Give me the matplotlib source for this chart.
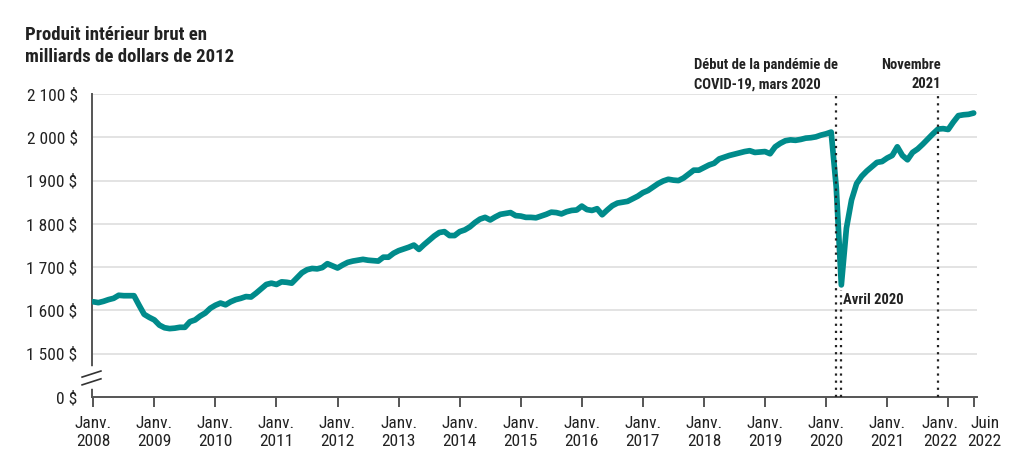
import numpy as np
import matplotlib
matplotlib.use("Agg")
import matplotlib.pyplot as plt
import matplotlib.transforms as mtransforms
from matplotlib import font_manager

# Font: condensed Roboto if available, else plain Roboto
names = set(f.name for f in font_manager.fontManager.ttflist)
fam = 'Roboto Condensed' if 'Roboto Condensed' in names else 'Roboto'
plt.rcParams['font.family'] = [fam, 'DejaVu Sans']

# Monthly real GDP (billions of 2012 dollars), Jan 2008 .. June 2022
gdp_2008 = [1620, 1618, 1621, 1625, 1628, 1635, 1634, 1634, 1634, 1612, 1591, 1584]
gdp_2009 = [1578, 1566, 1560, 1558, 1559, 1561, 1561, 1574, 1578, 1587, 1594, 1605]
gdp_2010 = [1612, 1617, 1613, 1620, 1625, 1628, 1632, 1631, 1640, 1650, 1660, 1663]
gdp_2011 = [1660, 1666, 1665, 1663, 1675, 1687, 1694, 1697, 1696, 1699, 1708, 1703]
gdp_2012 = [1698, 1705, 1711, 1714, 1716, 1718, 1716, 1715, 1714, 1723, 1723, 1732]
gdp_2013 = [1738, 1742, 1746, 1751, 1741, 1752, 1762, 1772, 1780, 1782, 1773, 1773]
gdp_2014 = [1782, 1786, 1793, 1803, 1811, 1815, 1809, 1816, 1822, 1824, 1826, 1819]
gdp_2015 = [1818, 1815, 1815, 1814, 1818, 1822, 1827, 1826, 1823, 1828, 1831, 1832]
gdp_2016 = [1841, 1833, 1831, 1835, 1821, 1832, 1842, 1848, 1850, 1852, 1858, 1864]
gdp_2017 = [1872, 1877, 1885, 1893, 1899, 1903, 1901, 1900, 1906, 1915, 1924, 1924]
gdp_2018 = [1930, 1936, 1940, 1950, 1954, 1958, 1961, 1964, 1967, 1969, 1965, 1966]
gdp_2019 = [1967, 1962, 1978, 1986, 1992, 1994, 1993, 1995, 1998, 1999, 2001, 2005]
gdp_2020 = [2008, 2012, 1885, 1659, 1790, 1855, 1893, 1910, 1922, 1932, 1942, 1944]
gdp_2021 = [1952, 1958, 1978, 1958, 1948, 1965, 1973, 1984, 1996, 2008, 2019, 2020]
gdp_2022 = [2018, 2035, 2050, 2052, 2053, 2056]

gdp = (gdp_2008 + gdp_2009 + gdp_2010 + gdp_2011 + gdp_2012 + gdp_2013 + gdp_2014
       + gdp_2015 + gdp_2016 + gdp_2017 + gdp_2018 + gdp_2019 + gdp_2020 + gdp_2021 + gdp_2022)
months = np.arange(len(gdp))

# x tick positions / labels
xtick_pos = [0, 12, 24, 36, 48, 60, 72, 84, 96, 108, 120, 132, 144, 156, 168, 173]
xtick_lab = ["Janv.\n%d" % y for y in range(2008, 2023)] + ["Juin\n2022"]

# y axis (broken: bottom tick stands for 0 $)
ytick_pos = [1400, 1500, 1600, 1700, 1800, 1900, 2000, 2100]
ytick_lab = ["0 $", "1 500 $", "1 600 $", "1 700 $", "1 800 $", "1 900 $", "2 000 $", "2 100 $"]

# annotated months
mars_2020 = 146
avril_2020 = 147
nov_2021 = 166

fig = plt.figure(figsize=(10.24, 4.73), dpi=100)
ax = fig.add_axes([91.5/1024, 76/473, (976.7-91.5)/1024, 303/473])

ax.plot(months, gdp, color='#008b8b', lw=4.1, solid_capstyle='round', solid_joinstyle='round', zorder=3)

ax.set_xlim(-0.35, 173.6)
ax.set_ylim(1400, 2100)

# gridlines
for v in ytick_pos[1:]:
    ax.axhline(v, color='#dedede', lw=1.2, zorder=1)

# dotted event lines
dot = (0, (1, 2.2))
ax.plot([mars_2020, mars_2020], [1400, 2100], color='#222222', lw=1.6, ls=dot, zorder=4, clip_on=False)
ax.plot([avril_2020, avril_2020], [1400, 1648], color='#222222', lw=1.6, ls=dot, zorder=4)
ax.plot([nov_2021, nov_2021], [1400, 2100], color='#222222', lw=1.6, ls=dot, zorder=4, clip_on=False)

ax.text(mars_2020 + 0.4, 2106, "Début de la pandémie de\nCOVID-19, mars 2020", ha='right', va='bottom',
        multialignment='left', fontsize=10.5, fontweight='bold', color='#222222', linespacing=1.45)
ax.text(nov_2021 + 0.5, 2106, "Novembre\n2021", ha='right', va='bottom',
        multialignment='right', fontsize=10.5, fontweight='bold', color='#222222', linespacing=1.45)
ax.text(avril_2020 + 0.4, 1624, "Avril 2020", ha='left', va='center',
        fontsize=10.5, fontweight='bold', color='#222222')

# spines and ticks
for s in ['top', 'right']:
    ax.spines[s].set_visible(False)
ax.spines['left'].set_color('#555555')
ax.spines['bottom'].set_color('#555555')
ax.spines['left'].set_linewidth(1.4)
ax.spines['bottom'].set_linewidth(1.4)

ax.set_yticks(ytick_pos)
ax.set_yticklabels(ytick_lab)
ax.set_xticks(xtick_pos)
ax.set_xticklabels(xtick_lab)
ax.tick_params(axis='y', length=0, pad=10, labelsize=12.5, labelcolor='#222222')
ax.tick_params(axis='x', length=7, width=1.4, color='#555555', pad=7, labelsize=12.5, labelcolor='#222222')

# nudge the last two x labels apart so they don't collide
xlabels = ax.get_xticklabels()
for lab, dx in [(xlabels[-2], -6), (xlabels[-1], 8)]:
    lab.set_transform(lab.get_transform() + mtransforms.ScaledTranslation(dx/72, 0, fig.dpi_scale_trans))

# axis break marks on the left spine
ax.plot([-0.35, -0.35], [1425, 1465], color='white', lw=4, zorder=5, clip_on=False)
for yb in [1428, 1446]:
    ax.plot([-2.2, 1.5], [yb, yb + 14], color='#333333', lw=1.2, zorder=6, clip_on=False)

fig.text(25/1024, 1 - 26/473, "Produit intérieur brut en\nmilliards de dollars de 2012",
         ha='left', va='top', fontsize=13.5, fontweight='bold', color='#222222', linespacing=1.3)

fig.savefig("out.png", dpi=100)
